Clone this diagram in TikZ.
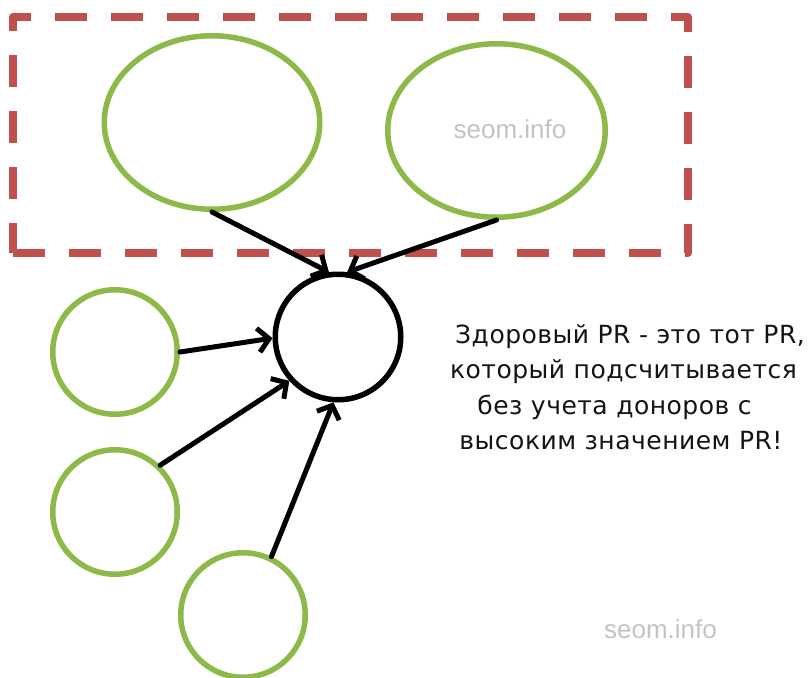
\documentclass[tikz,border=0pt]{standalone}
\usepackage{fontspec}
\setmainfont{DejaVu Sans}
\newfontfamily\wmfont{Liberation Sans}
\newfontfamily\notefont[LetterSpace=2]{DejaVu Sans}
\usetikzlibrary{arrows.meta,shapes.geometric}
\definecolor{leafgreen}{HTML}{8CB947}
\definecolor{boxred}{HTML}{C0504D}
\definecolor{wmgray}{HTML}{C4C4C4}
\definecolor{ink}{HTML}{141414}
\tikzset{
  x=1pt, y=-1pt,
  greenring/.style={draw=leafgreen, line width=5.5pt, inner sep=0pt},
  smallring/.style={greenring, circle, minimum size=124.5pt},
  bigring/.style={greenring, ellipse, minimum height=173.5pt},
  hub/.style={draw=black, line width=5.5pt, circle, inner sep=0pt, minimum size=125.5pt},
  link/.style={draw=black, line width=5pt, line cap=round, -{Straight Barb[length=11pt,width=24pt,line width=5pt]}},
  wm/.style={text=wmgray, anchor=base, inner sep=0pt, font=\wmfont\fontsize{26}{30}\selectfont},
  noteline/.style={text=ink, anchor=base, inner sep=0pt, font=\notefont\fontsize{25}{30}\selectfont},
}
\begin{document}
\begin{tikzpicture}
\useasboundingbox (0,0) rectangle (808,677);
\fill[white] (0,0) rectangle (808,677);
\node[draw=boxred, line width=8pt, dash pattern=on 32pt off 24pt, line join=round, minimum width=675pt, minimum height=236pt, inner sep=0pt] (box) at (350.5,135) {};
\node[bigring, minimum width=215.5pt] (e1) at (212,122.5) {};
\node[bigring, minimum width=217.5pt] (e2) at (496.5,130.5) {};
\node[hub] (c) at (338,337) {};
\node[smallring] (g1) at (115,352) {};
\node[smallring] (g2) at (115,512) {};
\node[smallring] (g3) at (243,615) {};
\draw[link] (e1.south) -- (c.98);
\draw[link] (e2.south) -- (c.82);
\draw[link] (g1.east) -- (c.181);
\draw[link] (g2.46) -- (c.222);
\draw[link] (g3.64) -- (c.266);
\node[noteline] (t1) at (630,343) {Здоровый PR - это тот PR,};
\node[noteline] (t2) at (623.5,378) {который подсчитывается};
\node[noteline] (t3) at (614.5,414) {без учета доноров с};
\node[noteline] (t4) at (621,449) {высоким значением PR!};
\node[wm] (w1) at (510,138) {seom.info};
\node[wm] (w2) at (660.5,638) {seom.info};
\end{tikzpicture}
\end{document}
